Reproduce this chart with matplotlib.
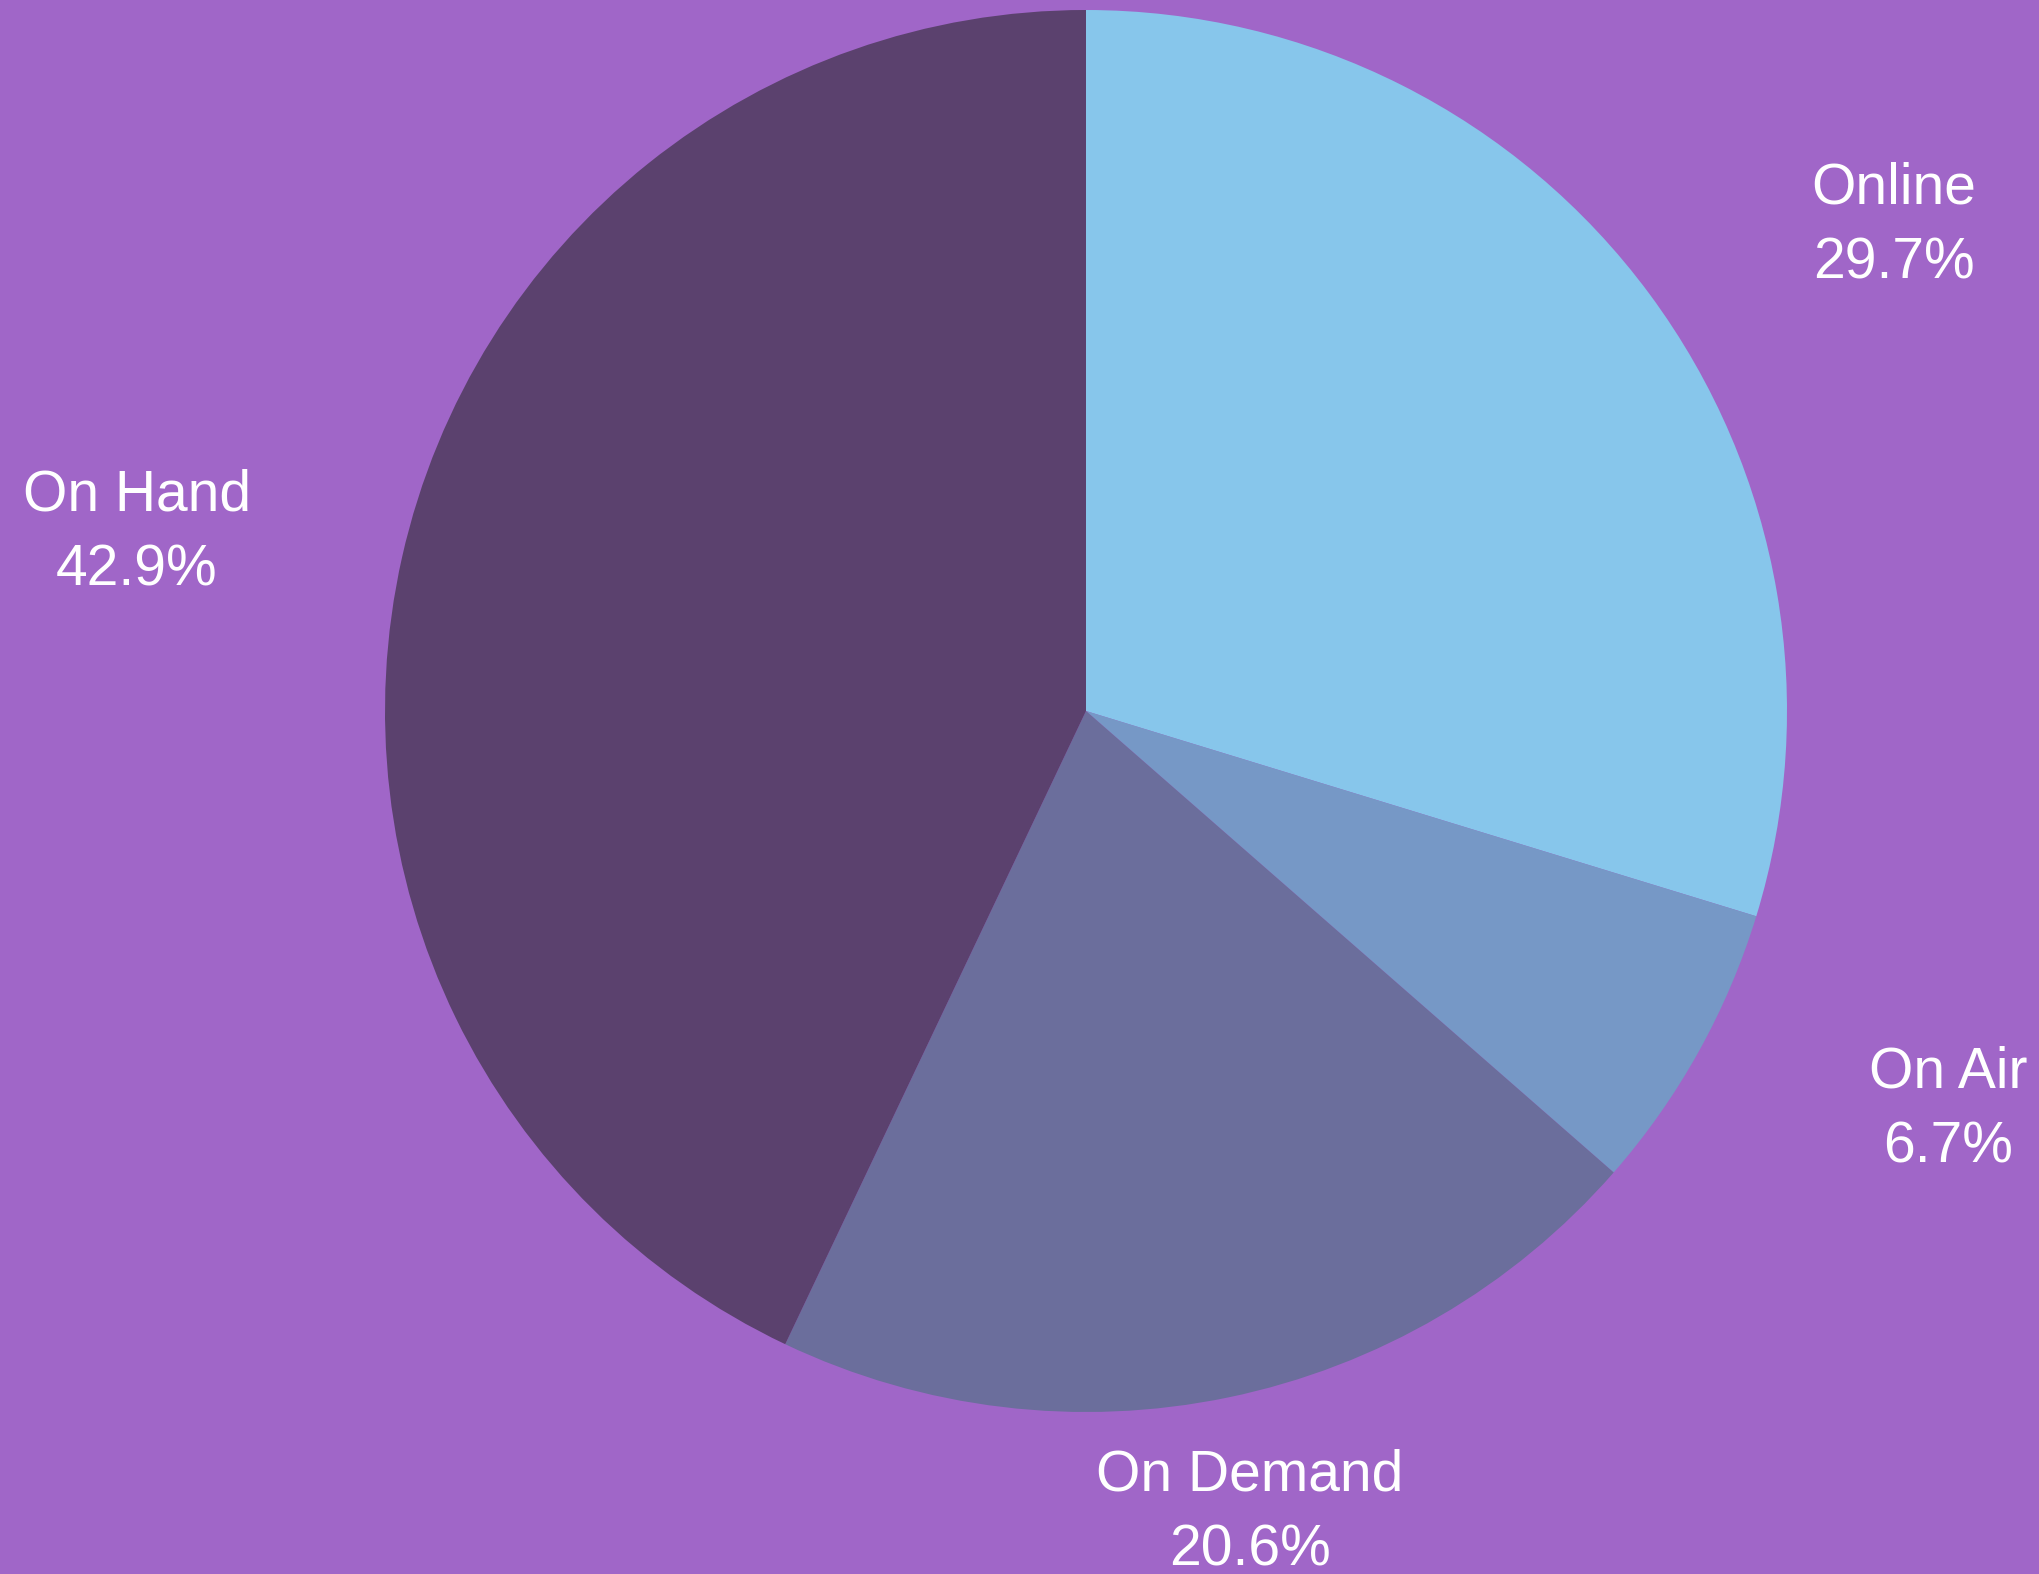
import matplotlib.pyplot as plt

plt.rcParams['font.family'] = ['Liberation Sans', 'DejaVu Sans']

labels = ['Online', 'On Air', 'On Demand', 'On Hand']
shares = [29.7, 6.7, 20.6, 42.9]
colors = ['#87c6eb', '#7698c6', '#6b6e9c', '#5b416e']
bg = '#a066c8'

W, H = 2039, 1574
fig = plt.figure(figsize=(W / 100, H / 100), dpi=100, facecolor=bg)
ax = fig.add_axes([0, 0, 1, 1])
ax.set_facecolor(bg)

cx, cy, r = 1086, H - 711, 701
wedges, texts = ax.pie(
    shares, colors=colors, startangle=90, counterclock=False,
    center=(cx, cy), radius=r, frame=True,
    labels=[f'{l}\n{v}%' for l, v in zip(labels, shares)],
    textprops=dict(color='white', fontsize=41, linespacing=1.52),
    wedgeprops=dict(linewidth=0),
)
ax.set_xlim(0, W)
ax.set_ylim(0, H)
ax.axis('off')

# outside label placement (pixels from top-left)
label_xy = [(1894, 226), (1948, 1110), (1250, 1513), (137, 533)]
for t, (x, y) in zip(texts, label_xy):
    t.set_position((x, H - y))
    t.set_ha('center')
    t.set_va('center')
    t.set_multialignment('center')

fig.savefig('out.png', dpi=100, facecolor=bg)
